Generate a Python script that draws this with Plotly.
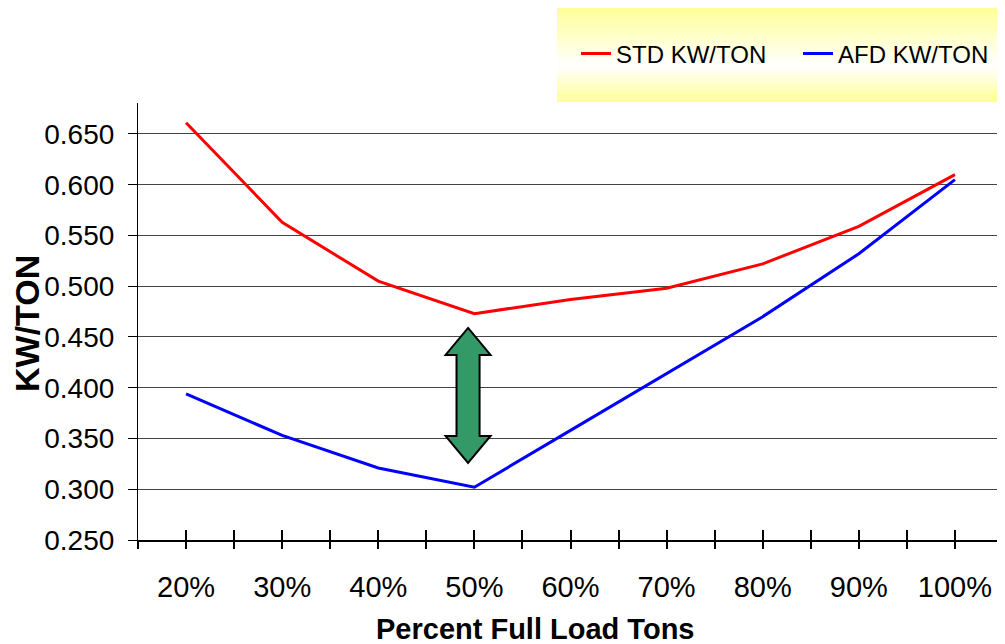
import plotly.graph_objects as go

categories = ["20%", "30%", "40%", "50%", "60%", "70%", "80%", "90%", "100%"]
std_kw_ton = [0.661, 0.563, 0.505, 0.473, 0.487, 0.498, 0.522, 0.559, 0.610]
afd_kw_ton = [0.394, 0.353, 0.321, 0.302, 0.358, 0.414, 0.470, 0.532, 0.605]
y_ticks = [0.25, 0.30, 0.35, 0.40, 0.45, 0.50, 0.55, 0.60, 0.65]

xs = list(range(len(categories)))
FONT = "Liberation Sans, Arial, sans-serif"

fig = go.Figure()
fig.add_trace(go.Scatter(x=xs, y=std_kw_ton, mode="lines", name="STD KW/TON",
                         line=dict(color="#FF0000", width=3)))
fig.add_trace(go.Scatter(x=xs, y=afd_kw_ton, mode="lines", name="AFD KW/TON",
                         line=dict(color="#0000FF", width=3)))
# invisible trace on overlay axis for crossing tick marks
fig.add_trace(go.Scatter(x=[xs[0]], y=[y_ticks[0]], xaxis="x2", mode="markers",
                         marker=dict(opacity=0), showlegend=False, hoverinfo="skip"))

tickvals = []
ticktext = []
for i in range(len(categories)):
    tickvals += [i - 0.5, i]
    ticktext += ["", categories[i]]
tickvals.append(len(categories) - 0.5)
ticktext.append("")

xrange = [-0.5, len(categories) - 0.5]

# legend background gradient (strips)
shapes = []
n = 24
x0p, x1p = (557 - 138) / 865, (1005 - 138) / 865
y_top, y_bot = (540 - 8) / 437, (540 - 102) / 437
for k in range(n):
    t = (k + 0.5) / n  # 0 top -> 1 bottom
    d = abs(t - 0.62) / 0.62 if t < 0.62 else abs(t - 0.62) / 0.38
    d = min(d, 1.0)
    b = int(round(255 - (255 - 150) * d))
    color = f"rgb(255,255,{b})"
    ya = y_top - (y_top - y_bot) * k / n
    yb = y_top - (y_top - y_bot) * (k + 1) / n
    shapes.append(dict(type="rect", xref="paper", yref="paper", x0=x0p, x1=x1p,
                       y0=yb, y1=ya + 0.001, fillcolor=color, line=dict(width=0),
                       layer="below"))

# double-headed green arrow
cx, hw, sw = 2.934, 0.234, 0.12
yt, yhb, ybh, yb = 0.4589, 0.4323, 0.3525, 0.3259
path = (f"M {cx},{yt} L {cx+hw},{yhb} L {cx+sw},{yhb} L {cx+sw},{ybh} "
        f"L {cx+hw},{ybh} L {cx},{yb} L {cx-hw},{ybh} L {cx-sw},{ybh} "
        f"L {cx-sw},{yhb} L {cx-hw},{yhb} Z")
shapes.append(dict(type="path", xref="x", yref="y", path=path,
                   fillcolor="#339966", line=dict(color="black", width=2)))

fig.update_layout(
    width=997, height=636,
    margin=dict(l=130, r=2, t=95, b=104, autoexpand=False),
    plot_bgcolor="white", paper_bgcolor="white",
    font=dict(family=FONT, color="black"),
    xaxis=dict(range=xrange, tickvals=tickvals, ticktext=ticktext,
               ticks="outside", ticklen=7, tickwidth=1.5, tickcolor="black",
               showline=True, linecolor="black", linewidth=2,
               showgrid=False, zeroline=False, automargin=False,
               tickfont=dict(size=29, family=FONT), ticklabelstandoff=13),
    xaxis2=dict(range=xrange, overlaying="x", tickvals=tickvals, ticktext=[""] * len(tickvals),
                ticks="inside", ticklen=10, tickwidth=1.5, tickcolor="black",
                showline=False, showgrid=False, zeroline=False, side="bottom",
                anchor="y", automargin=False),
    yaxis=dict(range=[0.25, 0.6805], tickvals=y_ticks,
               ticktext=[f"{v:.3f}" for v in y_ticks],
               ticks="outside", ticklen=9, tickwidth=1.2, tickcolor="black",
               showline=True, linecolor="black", linewidth=1.2,
               showgrid=True, gridcolor="#444444", gridwidth=1,
               zeroline=False, tickfont=dict(size=28, family=FONT),
               ticklabelstandoff=8, automargin=False),
    legend=dict(orientation="h", x=(576 - 138) / 865, y=(540 - 54) / 437,
                xanchor="left", yanchor="middle", bgcolor="rgba(0,0,0,0)",
                font=dict(size=24, family=FONT), entrywidth=177,
                entrywidthmode="pixels"),
    shapes=shapes,
    annotations=[
        dict(text="<b>Percent Full Load Tons</b>", xref="paper", yref="paper",
             x=(535 - 138) / 865, y=(540 - 629) / 437, xanchor="center", yanchor="middle",
             showarrow=False, font=dict(size=29, family=FONT)),
        dict(text="<b>KW/TON</b>", xref="paper", yref="paper",
             x=(27 - 138) / 865, y=(540 - 324) / 437, xanchor="center", yanchor="middle",
             textangle=-90, showarrow=False, font=dict(size=34, family=FONT)),
    ],
)

fig.write_html("out.html")
